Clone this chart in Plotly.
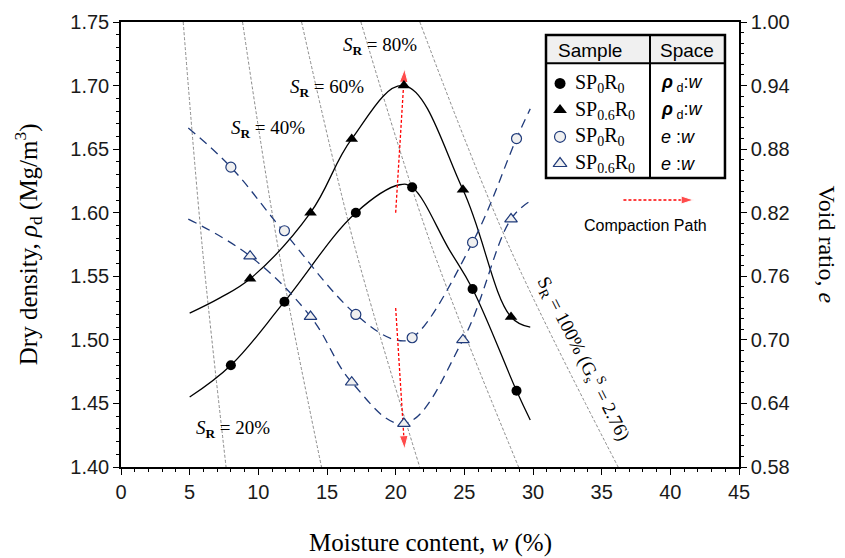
import plotly.graph_objects as go

# ---------------- data ----------------
w_SP0 = [8.0, 11.9, 17.1, 21.2, 25.6, 28.8]
rho_SP0 = [1.48, 1.53, 1.60, 1.62, 1.54, 1.46]
e_SP0 = [0.863, 0.803, 0.724, 0.702, 0.792, 0.890]

w_SP06 = [9.4, 13.8, 16.8, 20.6, 24.9, 28.4]
rho_SP06 = [1.548, 1.60, 1.658, 1.70, 1.618, 1.518]
e_SP06 = [0.779, 0.722, 0.660, 0.621, 0.700, 0.814]

# fitted curves
fit_rho_SP0_w = [5.0, 8.0, 11.9, 17.1, 20.3, 21.2, 23.9, 25.6, 28.8, 29.8]
fit_rho_SP0 = [1.455, 1.48, 1.53, 1.60, 1.622, 1.62, 1.571, 1.54, 1.46, 1.437]
fit_rho_SP06_w = [5.0, 7.2, 9.4, 13.8, 16.8, 20.6, 24.9, 28.4, 29.8]
fit_rho_SP06 = [1.521, 1.533, 1.548, 1.60, 1.658, 1.70, 1.618, 1.518, 1.51]
fit_e_SP0_w = [4.9, 8.0, 11.8, 17.1, 20.0, 21.2, 25.6, 28.8, 29.8]
fit_e_SP0 = [0.90, 0.863, 0.803, 0.724, 0.70, 0.702, 0.792, 0.89, 0.918]
fit_e_SP06_w = [4.9, 9.4, 13.8, 16.8, 20.6, 24.9, 28.4, 29.8]
fit_e_SP06 = [0.814, 0.779, 0.722, 0.66, 0.621, 0.70, 0.814, 0.831]

# degree-of-saturation lines: moisture content at rho = 1.75, 1.575, 1.40
SR_levels = [20, 40, 60, 80, 100]
SR_rho = [1.75, 1.575, 1.40]
SR_w_top = [4.53, 8.85, 13.15, 17.47, 21.76]
SR_w_mid = [5.9, 11.4, 16.98, 22.57, 28.2]
SR_w_bot = [7.65, 14.6, 21.75, 28.95, 36.2]

# compaction paths
path_up_w = [20.0, 20.65]
path_up_rho = [1.60, 1.713]
path_dn_w = [20.0, 20.65]
path_dn_e = [0.730, 0.597]

x_ticks = [0, 5, 10, 15, 20, 25, 30, 35, 40, 45]

# ---------------- styles ----------------
NAVY = "#1f3a7a"
SERIF = "Liberation Serif"
SANS = "Liberation Sans"

fig = go.Figure()

# S_R lines
for i, s in enumerate(SR_levels):
    fig.add_trace(go.Scatter(
        x=[SR_w_top[i], SR_w_mid[i], SR_w_bot[i]], y=SR_rho,
        mode="lines", line=dict(color="#8a8a8a", width=1, dash="3px,2px", shape="spline"),
        xaxis="x", yaxis="y", hoverinfo="skip", showlegend=False))

# fitted curves
fig.add_trace(go.Scatter(x=fit_rho_SP0_w, y=fit_rho_SP0, mode="lines",
                         line=dict(color="black", width=1.3, shape="spline", smoothing=1.1),
                         yaxis="y", showlegend=False))
fig.add_trace(go.Scatter(x=fit_rho_SP06_w, y=fit_rho_SP06, mode="lines",
                         line=dict(color="black", width=1.3, shape="spline", smoothing=1.1),
                         yaxis="y", showlegend=False))
fig.add_trace(go.Scatter(x=fit_e_SP0_w, y=fit_e_SP0, mode="lines",
                         line=dict(color=NAVY, width=1.3, dash="9px,6px", shape="spline", smoothing=1.1),
                         yaxis="y2", showlegend=False))
fig.add_trace(go.Scatter(x=fit_e_SP06_w, y=fit_e_SP06, mode="lines",
                         line=dict(color=NAVY, width=1.3, dash="9px,6px", shape="spline", smoothing=1.1),
                         yaxis="y2", showlegend=False))

# compaction path arrows
fig.add_trace(go.Scatter(x=path_up_w, y=path_up_rho, mode="lines+markers",
                         line=dict(color="red", width=1.3, dash="3px,2px"),
                         marker=dict(symbol="arrow", size=[0, 14], color="red", angleref="previous"),
                         yaxis="y", showlegend=False))
fig.add_trace(go.Scatter(x=path_dn_w, y=path_dn_e, mode="lines+markers",
                         line=dict(color="red", width=1.3, dash="3px,2px"),
                         marker=dict(symbol="arrow", size=[0, 14], color="red", angleref="previous"),
                         yaxis="y2", showlegend=False))

# data markers
fig.add_trace(go.Scatter(x=w_SP0, y=rho_SP0, mode="markers",
                         marker=dict(symbol="circle", size=10, color="black"),
                         yaxis="y", showlegend=False))
fig.add_trace(go.Scatter(x=w_SP06, y=rho_SP06, mode="markers",
                         marker=dict(symbol="triangle-up", size=11, color="black"),
                         yaxis="y", showlegend=False))
fig.add_trace(go.Scatter(x=w_SP0, y=e_SP0, mode="markers",
                         marker=dict(symbol="circle", size=10, color="#f0f0f0",
                                     line=dict(color=NAVY, width=1.2)),
                         yaxis="y2", showlegend=False))
fig.add_trace(go.Scatter(x=w_SP06, y=e_SP06, mode="markers",
                         marker=dict(symbol="triangle-up", size=11, color="#f0f0f0",
                                     line=dict(color=NAVY, width=1.2)),
                         yaxis="y2", showlegend=False))

# ---------------- legend table (overlay axes in plot-area fractions) ----------------
L, R, T, B = 0.6877, 0.9773, 0.9708, 0.6494
DIV, HDR = 0.856, 0.9072
row_y = [0.862, 0.802, 0.742, 0.682]
mk_x = 0.7104
fig.add_trace(go.Scatter(x=[mk_x], y=[row_y[0]], mode="markers", xaxis="x3", yaxis="y3",
                         marker=dict(symbol="circle", size=11, color="black"), showlegend=False))
fig.add_trace(go.Scatter(x=[mk_x], y=[row_y[1]], mode="markers", xaxis="x3", yaxis="y3",
                         marker=dict(symbol="triangle-up", size=12, color="black"), showlegend=False))
fig.add_trace(go.Scatter(x=[mk_x], y=[row_y[2]], mode="markers", xaxis="x3", yaxis="y3",
                         marker=dict(symbol="circle", size=11, color="#f0f0f0",
                                     line=dict(color=NAVY, width=1.2)), showlegend=False))
fig.add_trace(go.Scatter(x=[mk_x], y=[row_y[3]], mode="markers", xaxis="x3", yaxis="y3",
                         marker=dict(symbol="triangle-up", size=12, color="#f0f0f0",
                                     line=dict(color=NAVY, width=1.2)), showlegend=False))
# compaction path legend arrow
fig.add_trace(go.Scatter(x=[0.813, 0.9265], y=[0.600, 0.600], mode="lines+markers", xaxis="x3", yaxis="y3",
                         line=dict(color="red", width=1.3, dash="3px,2px"),
                         marker=dict(symbol="arrow", size=[0, 13], color="red", angleref="previous"),
                         showlegend=False))

shapes = [
    dict(type="rect", xref="paper", yref="paper", x0=L, x1=R, y0=HDR, y1=T,
         fillcolor="#f0f0f0", line=dict(width=0), layer="below"),
    dict(type="rect", xref="paper", yref="paper", x0=L, x1=R, y0=B, y1=T,
         line=dict(color="black", width=2.5), fillcolor="rgba(0,0,0,0)", layer="above"),
    dict(type="line", xref="paper", yref="paper", x0=L, x1=R, y0=HDR, y1=HDR,
         line=dict(color="black", width=2), layer="above"),
    dict(type="line", xref="paper", yref="paper", x0=DIV, x1=DIV, y0=B, y1=T,
         line=dict(color="black", width=2), layer="above"),
]

ann = []
def A(text, x, y, xref="paper", yref="paper", size=17, family=SERIF, xanchor="center",
      angle=0, color="black"):
    ann.append(dict(text=text, x=x, y=y, xref=xref, yref=yref, showarrow=False,
                    xanchor=xanchor, yanchor="middle", textangle=angle,
                    font=dict(size=size, family=family, color=color)))

A("Sample", 0.759, 0.9355, size=19, family=SANS)
A("Space", 0.916, 0.9355, size=19, family=SANS)
sample_txt = ["SP<sub>0</sub>R<sub>0</sub>", "SP<sub>0.6</sub>R<sub>0</sub>",
              "SP<sub>0</sub>R<sub>0</sub>", "SP<sub>0.6</sub>R<sub>0</sub>"]
space_txt = ["<b><i>ρ</i></b><sub> d</sub>:<i>w</i>", "<b><i>ρ</i></b><sub> d</sub>:<i>w</i>",
             "<i>e</i> :<i>w</i>", "<i>e</i> :<i>w</i>"]
for i in range(4):
    A(sample_txt[i], 0.7314, row_y[i], size=20, family=SERIF, xanchor="left")
    A(space_txt[i], 0.8706, row_y[i], size=18, family=SANS, xanchor="left")
A("Compaction Path", 0.8495, 0.5416, size=16, family=SANS)

# S_R labels (data coordinates)
SR_lab_w = [8.14, 10.69, 15.01, 18.83]
SR_lab_rho = [1.4297, 1.6656, 1.6979, 1.7314]
for i in range(4):
    A("<i>S</i><sub><b>R</b></sub> = %d%%" % SR_levels[i], SR_lab_w[i], SR_lab_rho[i],
      xref="x", yref="y", size=19)
A("S<sub>R</sub> = 100% (G<sub>s</sub><sup>S</sup> = 2.76)", 33.73, 1.4857, xref="x", yref="y",
  size=19, angle=63)

# axis titles
A("Dry density, <i>ρ</i><sub>d</sub> (Mg/m<sup>3</sup>)", -0.151, 0.5, size=25, angle=-90)
A("Void ratio, <i>e</i>", 1.1440, 0.5, size=24, angle=90)
A("Moisture content, <i>w</i> (%)", 0.5, -0.1708, size=25)

tickfont = dict(family=SANS, size=20, color="#1a1a1a")
fig.update_layout(
    width=845, height=558,
    margin=dict(l=121, r=106, t=22, b=91),
    plot_bgcolor="white", paper_bgcolor="white",
    showlegend=False,
    shapes=shapes, annotations=ann,
    xaxis=dict(range=[0, 45], tickvals=x_ticks, showgrid=False, zeroline=False,
               showline=True, linecolor="black", linewidth=1.5, mirror=True,
               ticks="outside", ticklen=6, tickwidth=1.3, tickcolor="black",
               minor=dict(dtick=1, ticks="outside", ticklen=3, tickcolor="black", tickwidth=1),
               tickfont=tickfont),
    yaxis=dict(range=[1.40, 1.75], dtick=0.05, tick0=1.40, tickformat=".2f",
               showgrid=False, zeroline=False, showline=True, linecolor="black", linewidth=1.5,
               ticks="outside", ticklen=6, tickwidth=1.3, tickcolor="black",
               minor=dict(dtick=0.01, ticks="outside", ticklen=3, tickcolor="black", tickwidth=1),
               tickfont=tickfont),
    yaxis2=dict(range=[0.58, 1.00], dtick=0.06, tick0=0.58, tickformat=".2f",
                overlaying="y", side="right", anchor="x",
                showgrid=False, zeroline=False, showline=True, linecolor="black", linewidth=1.5,
                ticks="outside", ticklen=6, tickwidth=1.3, tickcolor="black",
                minor=dict(dtick=0.01, ticks="outside", ticklen=3, tickcolor="black", tickwidth=1),
                tickfont=tickfont),
    xaxis3=dict(overlaying="x", range=[0, 1], visible=False, anchor="y3"),
    yaxis3=dict(overlaying="y", range=[0, 1], visible=False, anchor="x3"),
)

fig.write_html("out.html")
